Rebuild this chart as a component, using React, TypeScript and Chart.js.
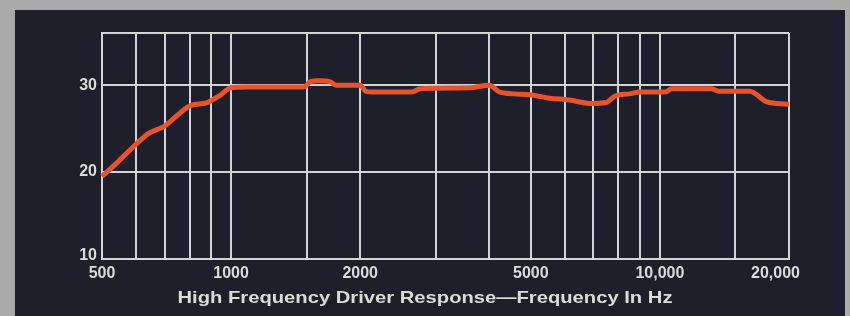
import React, { useEffect, useRef } from "react";
import { Chart, registerables } from "chart.js";

Chart.register(...registerables);

// Frequency (Hz) and response level
const freqs = [500, 540, 600, 640, 700, 740, 800, 880, 940, 1000, 1080, 1480, 1530, 1600, 1700, 1760, 2000, 2060, 2130, 2640, 2760, 3600, 4000, 4230, 4970, 5530, 6150, 6850, 7500, 7830, 8490, 9000, 10300, 10650, 13200, 13700, 16200, 17700, 18700, 20000];
const levels = [19.5, 21.0, 23.2, 24.4, 25.3, 26.3, 27.6, 28.0, 28.8, 29.7, 29.8, 29.8, 30.4, 30.5, 30.4, 30.0, 30.0, 29.3, 29.2, 29.2, 29.6, 29.7, 30.0, 29.2, 28.9, 28.5, 28.3, 27.9, 28.0, 28.7, 29.0, 29.2, 29.2, 29.6, 29.6, 29.3, 29.3, 28.1, 27.9, 27.8];

const xGridValues = [500, 600, 700, 800, 900, 1000, 1500, 2000, 3000, 4000, 5000, 6000, 7000, 8000, 9000, 10000, 15000, 20000];
const xTickLabels = [
  { value: 500, text: "500" },
  { value: 1000, text: "1000" },
  { value: 2000, text: "2000" },
  { value: 5000, text: "5000" },
  { value: 10000, text: "10,000" },
  { value: 20000, text: "20,000" },
];
const yGridValues = [10, 20, 30, 36];
const yTickLabels = [10, 20, 30];
const title = "High Frequency Driver Response\u2014Frequency In Hz";

const labelPlugin = {
  id: "customLabels",
  afterDraw(chart: any) {
    const ctx = chart.ctx;
    const xs = chart.scales.x;
    const ys = chart.scales.y;
    ctx.save();
    ctx.fillStyle = "#dcdcd6";
    ctx.font = 'bold 16px "Liberation Sans", Arial, sans-serif';
    ctx.textBaseline = "middle";
    ctx.textAlign = "right";
    yTickLabels.forEach((v) => {
      let py = ys.getPixelForValue(v);
      if (v === 10) py -= 3;
      ctx.fillText(String(v), xs.left - 5, py);
    });
    xTickLabels.forEach((t, i) => {
      const px = xs.getPixelForValue(t.value);
      if (i === xTickLabels.length - 1) {
        ctx.textAlign = "right";
        ctx.fillText(t.text, px + 11, ys.bottom + 15);
      } else {
        ctx.textAlign = "center";
        ctx.fillText(t.text, px, ys.bottom + 15);
      }
    });
    ctx.font = 'bold 17px "Liberation Sans", Arial, sans-serif';
    ctx.textAlign = "center";
    const w = ctx.measureText(title).width;
    const target = 495;
    ctx.translate(chart.width / 2, 298);
    ctx.scale(target / w, 1);
    ctx.fillText(title, 0, 0);
    ctx.restore();
  },
};

export default function App() {
  const ref = useRef<HTMLCanvasElement>(null);
  useEffect(() => {
    if (!ref.current) return;
    const gridColor = "#d4d4d4";
    const chart = new Chart(ref.current, {
      type: "line",
      data: {
        datasets: [
          {
            data: freqs.map((f, i) => ({ x: f, y: levels[i] })),
            borderColor: "#e9532c",
            borderWidth: 5,
            pointRadius: 0,
            cubicInterpolationMode: "monotone",
            fill: false,
            clip: false as any,
          },
        ],
      },
      options: {
        animation: false,
        responsive: false,
        layout: { autoPadding: false, padding: { left: 102, right: 61, top: 33, bottom: 57 } },
        plugins: { legend: { display: false }, tooltip: { enabled: false } },
        scales: {
          x: {
            type: "logarithmic",
            min: 500,
            max: 20000,
            afterBuildTicks: (s: any) => {
              s.ticks = xGridValues.map((v) => ({ value: v }));
            },
            ticks: { display: false },
            grid: { color: gridColor, lineWidth: 2, drawTicks: false },
            border: { display: true, color: gridColor, width: 2 },
          },
          y: {
            type: "linear",
            min: 10,
            max: 36,
            afterBuildTicks: (s: any) => {
              s.ticks = yGridValues.map((v) => ({ value: v }));
            },
            ticks: { display: false },
            grid: { color: gridColor, lineWidth: 2, drawTicks: false },
            border: { display: true, color: gridColor, width: 2 },
          },
        },
      },
      plugins: [labelPlugin],
    });
    return () => chart.destroy();
  }, []);

  return (
    <div style={{ position: "fixed", left: 0, top: 0, width: 850, height: 316, background: "#ababab", overflow: "hidden" }}>
      <div style={{ position: "absolute", left: 15, top: 10, width: 830, height: 306, background: "#1f1f2b" }} />
      <canvas ref={ref} width={850} height={316} style={{ position: "absolute", left: 0, top: 0 }} />
    </div>
  );
}
